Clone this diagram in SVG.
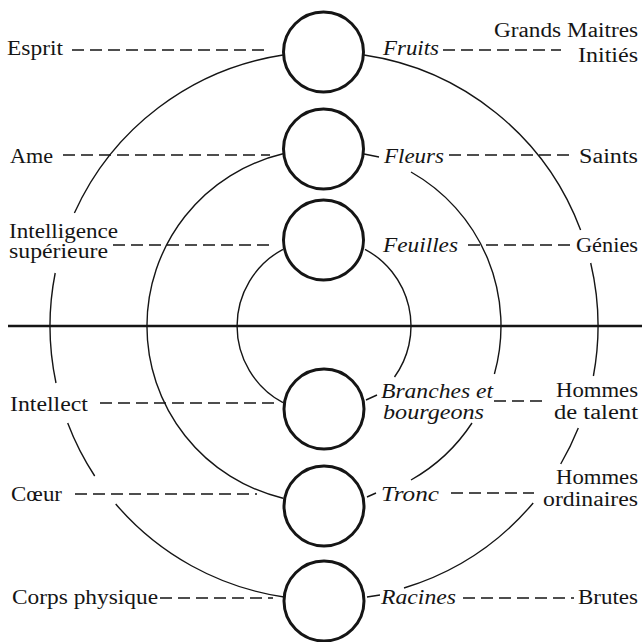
<svg xmlns="http://www.w3.org/2000/svg" width="642" height="642" viewBox="0 0 642 642">
<style>
  text { font-family: "Liberation Serif", "Times New Roman", serif; font-size: 20px; fill: #151515; }
  .it { font-style: italic; }
  .r { text-anchor: end; }
  .node circle { fill: none; stroke: #151515; stroke-width: 3; }
  .arc { fill: none; stroke: #151515; stroke-width: 1.4; }
  .dash { fill: none; stroke: #151515; stroke-width: 1.5; stroke-dasharray: 12 6; }
  .tick { fill: none; stroke: #151515; stroke-width: 1.4; }
  .axis { stroke: #151515; stroke-width: 2.6; }
</style>
<rect width="642" height="642" fill="#ffffff"/>

<g id="connectors">
  <line class="axis" x1="8" y1="326" x2="642" y2="326"/>
  <!-- outer circle -->
  <path class="arc" d="M 283 55 A 274 274 0 0 0 74.4 213 M 55.2 273 A 274 274 0 0 0 56 383 M 67.7 423 A 274 274 0 0 0 94.7 476 M 115.7 504 A 274 274 0 0 0 284 597"/>
  <path class="arc" d="M 364 55 A 274 274 0 0 1 580.6 230 M 590.7 263 A 274 274 0 0 1 593.4 376 M 578.3 428 A 274 274 0 0 1 560.7 464 M 533.2 503 A 274 274 0 0 1 404 588"/>
  <!-- middle circle -->
  <path class="arc" d="M 283 153.8 A 177 177 0 0 0 283 498.2"/>
  <path class="arc" d="M 411 172 A 177 177 0 0 1 494.4 374 M 472 423 A 177 177 0 0 1 411 480"/>
  <!-- inner circle -->
  <path class="arc" d="M 283 249.3 A 87 87 0 0 0 283 402.7"/>
  <path class="arc" d="M 365 249.3 A 87 87 0 0 1 394.5 377"/>
  <!-- short ticks -->
  <path class="tick" d="M 364 154 L 379 157 M 366 400 L 377 395 M 367 497 L 376 493 M 367 597 L 380 595"/>
  <!-- dashed leaders left -->
  <line class="dash" x1="72" y1="50" x2="267" y2="50"/>
  <line class="dash" x1="63" y1="155" x2="270" y2="155"/>
  <line class="dash" x1="113" y1="245" x2="270" y2="245"/>
  <line class="dash" x1="100" y1="403" x2="277" y2="403"/>
  <line class="dash" x1="75" y1="494" x2="257" y2="494"/>
  <line class="dash" x1="160" y1="598" x2="273" y2="598"/>
  <!-- dashed leaders right -->
  <line class="dash" x1="443" y1="50" x2="561" y2="50"/>
  <line class="dash" x1="449" y1="155" x2="574" y2="155"/>
  <line class="dash" x1="468" y1="245" x2="573" y2="245"/>
  <line class="dash" x1="494" y1="401" x2="544" y2="401"/>
  <line class="dash" x1="451" y1="493" x2="534" y2="493"/>
  <line class="dash" x1="463" y1="598" x2="574" y2="598"/>
</g>

<g id="node-fruits" class="node">
  <circle cx="323.5" cy="52" r="40"/>
  <text x="7" y="55" textLength="56" lengthAdjust="spacingAndGlyphs">Esprit</text>
  <text class="it" x="383" y="55" textLength="56" lengthAdjust="spacingAndGlyphs">Fruits</text>
  <text class="r" x="638" y="37" textLength="144" lengthAdjust="spacingAndGlyphs">Grands Maitres</text>
  <text class="r" x="638" y="62" textLength="60" lengthAdjust="spacingAndGlyphs">Initiés</text>
</g>

<g id="node-fleurs" class="node">
  <circle cx="323.5" cy="149" r="40"/>
  <text x="10" y="163" textLength="43" lengthAdjust="spacingAndGlyphs">Ame</text>
  <text class="it" x="384" y="163" textLength="60" lengthAdjust="spacingAndGlyphs">Fleurs</text>
  <text class="r" x="638" y="163" textLength="59" lengthAdjust="spacingAndGlyphs">Saints</text>
</g>

<g id="node-feuilles" class="node">
  <circle cx="323.5" cy="240" r="40"/>
  <text x="9" y="238" textLength="109" lengthAdjust="spacingAndGlyphs">Intelligence</text>
  <text x="9" y="258" textLength="99" lengthAdjust="spacingAndGlyphs">supérieure</text>
  <text class="it" x="383" y="252" textLength="75" lengthAdjust="spacingAndGlyphs">Feuilles</text>
  <text class="r" x="638" y="252" textLength="62" lengthAdjust="spacingAndGlyphs">Génies</text>
</g>

<g id="node-branches" class="node">
  <circle cx="324" cy="409" r="40"/>
  <text x="10" y="411" textLength="78" lengthAdjust="spacingAndGlyphs">Intellect</text>
  <text class="it" x="381" y="398" textLength="112" lengthAdjust="spacingAndGlyphs">Branches et</text>
  <text class="it" x="383" y="419" textLength="101" lengthAdjust="spacingAndGlyphs">bourgeons</text>
  <text class="r" x="638" y="397" textLength="82" lengthAdjust="spacingAndGlyphs">Hommes</text>
  <text class="r" x="638" y="419" textLength="84" lengthAdjust="spacingAndGlyphs">de talent</text>
</g>

<g id="node-tronc" class="node">
  <circle cx="324" cy="506" r="40"/>
  <text x="11" y="501" textLength="51" lengthAdjust="spacingAndGlyphs">Cœur</text>
  <text class="it" x="381" y="501" textLength="58" lengthAdjust="spacingAndGlyphs">Tronc</text>
  <text class="r" x="638" y="484" textLength="82" lengthAdjust="spacingAndGlyphs">Hommes</text>
  <text class="r" x="638" y="506" textLength="95" lengthAdjust="spacingAndGlyphs">ordinaires</text>
</g>

<g id="node-racines" class="node">
  <circle cx="324" cy="601" r="40"/>
  <text x="12" y="604" textLength="146" lengthAdjust="spacingAndGlyphs">Corps physique</text>
  <text class="it" x="381" y="604" textLength="75" lengthAdjust="spacingAndGlyphs">Racines</text>
  <text class="r" x="638" y="604" textLength="60" lengthAdjust="spacingAndGlyphs">Brutes</text>
</g>
</svg>
